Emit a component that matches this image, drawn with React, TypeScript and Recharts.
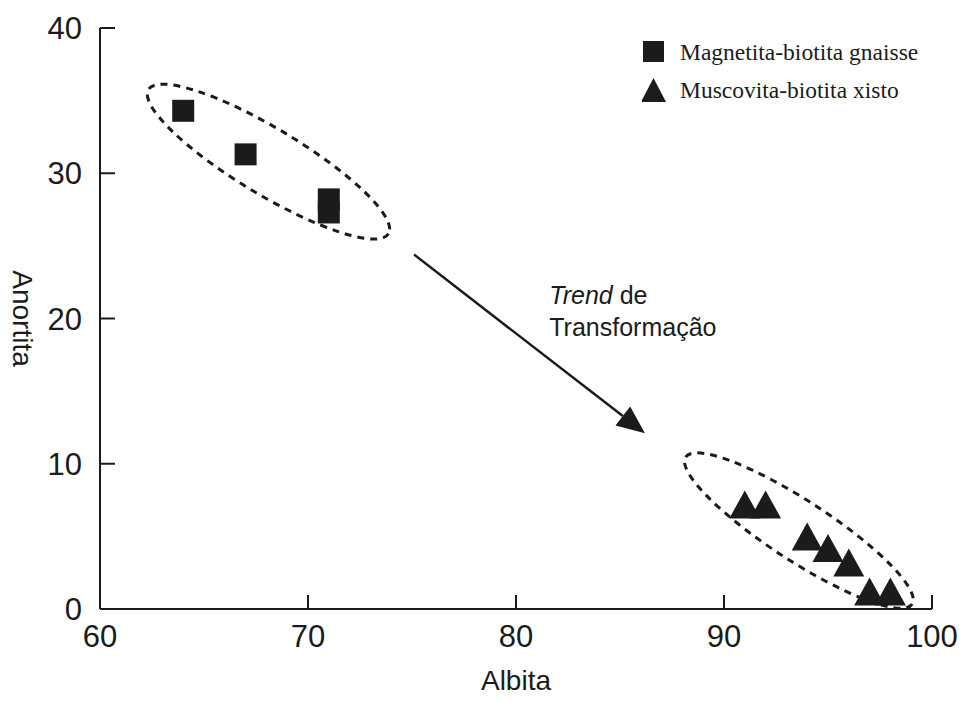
import { ScatterChart, Scatter, XAxis, YAxis, ReferenceDot, ReferenceLine, Legend, Label } from 'recharts'

const INK = '#1b1b1b'
const SANS = '"Liberation Sans", Arial, sans-serif'
const SERIF = '"Liberation Serif", "Times New Roman", serif'

const xTicks = [60, 70, 80, 90, 100]
const yTicks = [0, 10, 20, 30, 40]

// Magnetita-biotita gnaisse
const gnaisseAlbita = [64, 67, 71, 71]
const gnaisseAnortita = [34.3, 31.3, 28.2, 27.3]

// Muscovita-biotita xisto
const xistoAlbita = [91, 92, 94, 95, 96, 97, 98]
const xistoAnortita = [7.2, 7.2, 5.0, 4.2, 3.2, 1.2, 1.2]

const seriesNames = ['Magnetita-biotita gnaisse', 'Muscovita-biotita xisto']

// trend arrow and cluster outlines, in data units
const trendStart = { x: 75.1, y: 24.4 }
const trendEnd = { x: 86.2, y: 12.1 }
const trendLabelAt = { x: 81.6, y: 21.0 }
const clusterCenters = [
  { x: 68.1, y: 30.8 },
  { x: 93.6, y: 5.4 }
]

const gnaisse = gnaisseAlbita.map((a, i) => ({ albita: a, anortita: gnaisseAnortita[i] }))
const xisto = xistoAlbita.map((a, i) => ({ albita: a, anortita: xistoAnortita[i] }))

const Square = (p: any) => <rect x={p.cx - 11} y={p.cy - 11} width={22} height={22} fill={INK} />

const Triangle = (p: any) => (
  <polygon
    points={`${p.cx},${p.cy - 14} ${p.cx - 15.5},${p.cy + 14} ${p.cx + 15.5},${p.cy + 14}`}
    fill={INK}
  />
)

const Arrow = (p: any) => {
  const { x1, y1, x2, y2 } = p
  const ang = Math.atan2(y2 - y1, x2 - x1)
  const len = 28
  const half = 12
  const bx = x2 - len * Math.cos(ang)
  const by = y2 - len * Math.sin(ang)
  const px = -Math.sin(ang) * half
  const py = Math.cos(ang) * half
  return (
    <g>
      <line x1={x1} y1={y1} x2={bx} y2={by} stroke={INK} strokeWidth={2.5} />
      <polygon points={`${x2},${y2} ${bx + px},${by + py} ${bx - px},${by - py}`} fill={INK} />
    </g>
  )
}

const ellipseShape = (rx: number, ry: number, angle: number) => (p: any) => (
  <ellipse
    cx={p.cx}
    cy={p.cy}
    rx={rx}
    ry={ry}
    transform={`rotate(${angle} ${p.cx} ${p.cy})`}
    fill="none"
    stroke={INK}
    strokeWidth={3}
    strokeDasharray="7 6"
  />
)

const TrendText = (p: any) => (
  <text x={p.cx} y={p.cy} fontFamily={SANS} fontSize={25} fill={INK}>
    <tspan fontStyle="italic">Trend</tspan>
    <tspan> de</tspan>
    <tspan x={p.cx} dy={32}>Transformação</tspan>
  </text>
)

const LegendBox = () => (
  <div style={{ fontFamily: SERIF, fontSize: 23.5, color: INK, lineHeight: '38px' }}>
    <div style={{ display: 'flex', alignItems: 'center' }}>
      <svg width={38} height={38}>
        <rect x={1} y={8} width={21} height={21} fill={INK} />
      </svg>
      <span>{seriesNames[0]}</span>
    </div>
    <div style={{ display: 'flex', alignItems: 'center' }}>
      <svg width={38} height={38}>
        <polygon points="11.5,7 -1,31 24,31" fill={INK} />
      </svg>
      <span>{seriesNames[1]}</span>
    </div>
  </div>
)

export default function App() {
  const tickStyle = { fill: INK, fontSize: 31, fontFamily: SANS }
  return (
    <div style={{ position: 'absolute', left: 0, top: 0, background: '#fff' }}>
      <ScatterChart width={962} height={714} margin={{ top: 28, right: 30, bottom: 20, left: 0 }}>
        <XAxis
          dataKey="albita"
          type="number"
          domain={[60, 100]}
          ticks={xTicks}
          height={85}
          tick={tickStyle}
          tickSize={-14}
          tickMargin={30}
          axisLine={{ stroke: INK, strokeWidth: 2 }}
          tickLine={{ stroke: INK, strokeWidth: 2 }}
        >
          <Label value="Albita" position="insideBottom" offset={4} style={{ fill: INK, fontSize: 28, fontFamily: SANS }} />
        </XAxis>
        <XAxis
          xAxisId="top"
          orientation="top"
          type="number"
          domain={[60, 100]}
          ticks={xTicks}
          height={0}
          tickFormatter={() => ''}
          tickSize={-14}
          axisLine={{ stroke: INK, strokeWidth: 2 }}
          tickLine={{ stroke: INK, strokeWidth: 2 }}
        />
        <YAxis
          dataKey="anortita"
          type="number"
          domain={[0, 40]}
          ticks={yTicks}
          width={100}
          tick={tickStyle}
          tickSize={-15}
          tickMargin={33}
          axisLine={{ stroke: INK, strokeWidth: 2 }}
          tickLine={{ stroke: INK, strokeWidth: 2 }}
        >
          <Label
            value="Anortita"
            angle={90}
            position="insideLeft"
            offset={23}
            style={{ fill: INK, fontSize: 28, fontFamily: SANS, textAnchor: 'middle' }}
          />
        </YAxis>
        <YAxis
          yAxisId="right"
          orientation="right"
          type="number"
          domain={[0, 40]}
          ticks={yTicks}
          width={0}
          tickFormatter={() => ''}
          tickSize={-15}
          axisLine={{ stroke: INK, strokeWidth: 2 }}
          tickLine={{ stroke: INK, strokeWidth: 2 }}
        />
        <Legend
          layout="horizontal"
          verticalAlign="middle"
          align="center"
          wrapperStyle={{ left: 642, top: 33, width: 300 }}
          content={LegendBox}
        />
        <ReferenceDot x={clusterCenters[0].x} y={clusterCenters[0].y} r={0} shape={ellipseShape(140, 33, 31)} />
        <ReferenceDot x={clusterCenters[1].x} y={clusterCenters[1].y} r={0} shape={ellipseShape(135, 30, 33)} />
        <ReferenceLine segment={[trendStart, trendEnd]} shape={Arrow} />
        <ReferenceDot x={trendLabelAt.x} y={trendLabelAt.y} r={0} shape={TrendText} />
        <Scatter name={seriesNames[0]} data={gnaisse} shape={Square} isAnimationActive={false} />
        <Scatter name={seriesNames[1]} data={xisto} shape={Triangle} isAnimationActive={false} />
      </ScatterChart>
    </div>
  )
}
